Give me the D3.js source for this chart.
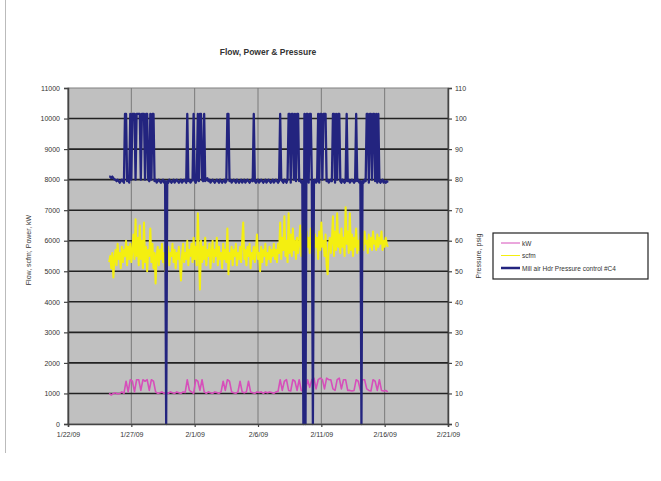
<!DOCTYPE html>
<html lang="en">
    <head>
        <meta charset="utf-8">
        <title>Flow, Power & Pressure</title>
        <script src="https://d3js.org/d3.v7.min.js"></script>
        <style type="text/css">
            body { margin: 0; background: #fff; }
            text { font-family: "Liberation Sans", Arial, sans-serif; fill: #333; }
            .tick text { font-size: 7px; }
        </style>
    </head>
    <body>
        <script type="text/javascript">
            //Width and height
            let w = 661;
            let h = 481;
            let margin = {top: 88, left: 68, right: 213, bottom: 57};

            //All readings start 1/25/09 06:00; kW logged every 4 h, scfm and pressure every 2 h
            let startTime = new Date(2009, 0, 25, 6);
            let kwStepHours = 4;
            let stepHours = 2;

            let xTicks = ["1/22/09", "1/27/09", "2/1/09", "2/6/09", "2/11/09", "2/16/09", "2/21/09"];
            let seriesNames = ["kW", "scfm", "Mill air Hdr Pressure control #C4"];

            let kW = [1000, 950, 1000, 1020, 980, 1000, 1050, 1000,
                      1400, 1050, 1450, 1400, 1050,
                      1450, 1450, 1100, 1450, 1400, 1450, 1100, 1450, 1400,
                      1050, 1000, 1020, 1050, 1000, 1030, 1000, 1050, 1020, 1000, 1050, 1020, 1000, 1050, 1030,
                      1450, 1100, 1050, 1000, 1450, 1400, 1100, 1450,
                      1050, 1000, 1050, 1020, 1000, 1050, 1030, 1000, 1050,
                      1400, 1100, 1450, 1400, 1050, 1020, 1000, 1050, 1400, 1050, 1020, 1050, 1400,
                      1050, 1020, 1000, 1050, 1030, 1050, 1000, 1050, 1020, 1050, 1030, 1000, 1050, 1070,
                      1450, 1100, 1400, 1450, 1100, 1080, 1450, 1400, 1100, 1450, 1100, 1080, 1100,
                      1450, 1200, 1450, 1500, 1150, 1450,
                      1500, 1450, 1150, 1500, 1450, 1450, 1150, 1100,
                      1450, 1500, 1150, 1450, 1450, 1100, 1100, 1080, 1100,
                      1450, 1400, 1100, 1450, 1450, 1150, 1100, 1080,
                      1450, 1400, 1100, 1450, 1100, 1080, 1100, 1050];

            let scfm = [5300, 5500, 5100, 5600, 4800, 5400, 5700, 5200, 5900, 5400,
                        5600, 5100, 5800, 5300, 5700, 5500, 6000, 5200, 5800, 5400,
                        5900, 5300, 5700, 6200, 5400, 6700, 5500, 6100, 5200, 6500,
                        5400, 6000, 5100, 6600, 5300, 5800, 5000, 5700, 5500, 6400,
                        5300, 5900, 5100, 5600, 4600, 5500, 5800, 5200, 5700, 5400,
                        5900, 5300, 5600, 5000, 5700, 5400, 5800, 5200, 5600, 5500,
                        5900, 5300, 5700, 5100, 5600, 5400, 5800, 5200, 4700, 5500,
                        5900, 5300, 5600, 5400, 6000, 5200, 5700, 5500, 5900, 5300,
                        6100, 5400, 5800, 5200, 6900, 5600, 4400, 6000, 5300, 5800,
                        5400, 6100, 5200, 5700, 5500, 5900, 5100, 5600, 6000, 5300,
                        5700, 5500, 6100, 5200, 5800, 5400, 5600, 5100, 5900, 5400,
                        5700, 5300, 6400, 4900, 5600, 5400, 5800, 5200, 5700, 5500,
                        5900, 5200, 5600, 5400, 5800, 5300, 6000, 6600, 5400, 5700,
                        5200, 5800, 5500, 5900, 5100, 5600, 5400, 5800, 5300, 5700,
                        6200, 5400, 5600, 5000, 5800, 5300, 5700, 5500, 5900, 5200,
                        5600, 5400, 5800, 5300, 5700, 5500, 5900, 5400, 5700, 5300,
                        5900, 5600, 6600, 5400, 6100, 5700, 6800, 5500, 6000, 5300,
                        6900, 5600, 6200, 5500, 6400, 5700, 6000, 5400, 6100, 5600,
                        5900, 6500, 5500, 6200, 5700, 6000, 5400, 6300, 5800, 6100,
                        5600, 6400, 5700, 6000, 5500, 6200, 5800, 6100, 5400, 6300,
                        5700, 6600, 5800, 6000, 5500, 6200, 5200, 4900, 5800, 6100,
                        5600, 6000, 6800, 5500, 6300, 5700, 6900, 5800, 6200, 5600,
                        6400, 5800, 6100, 5500, 7100, 5900, 6300, 5600, 6900, 5700,
                        6200, 5500, 6100, 5800, 6400, 5600, 6000, 5700, 6200, 5800,
                        6100, 5700, 6300, 5900, 6000, 5600, 6200, 5800, 6100, 5700,
                        6300, 5900, 6000, 5700, 6200, 5800, 6100, 5900, 6300, 5700,
                        6000, 5800, 6100, 5900, 5800];

            let pressure = [81, 81, 80.5, 81, 80.5, 80, 80, 79.5, 80, 79.5,
                            79, 79.5, 80, 79.5, 79, 101.5, 101.5, 79.5, 80, 79,
                            101.5, 80, 101.5, 101.5, 101.5, 80, 101.5, 101.5, 101.5, 101.5,
                            80, 101.5, 101.5, 101.5, 80, 101.5, 101.5, 80, 79.5, 101.5,
                            80, 101.5, 101.5, 79.5, 80, 79, 79.5, 80, 79.5, 79,
                            79.5, 80, 79, 79.5, 0, 79.5, 79, 80, 79.5, 79,
                            79.5, 80, 79, 79.5, 80, 79.5, 79, 79.5, 80, 79,
                            79.5, 80, 79.5, 79, 101.5, 79.5, 80, 79, 79.5, 80,
                            101.5, 79.5, 79, 80, 101.5, 79.5, 101.5, 101.5, 80, 79.5,
                            101.5, 79.5, 80, 80.5, 79.5, 80, 79, 79.5, 80, 79.5,
                            79, 79.5, 80, 79.5, 79, 80, 79.5, 79, 79.5, 80,
                            79, 79.5, 101.5, 101.5, 79.5, 80, 79, 79.5, 80, 79.5,
                            79, 80, 79.5, 79, 79.5, 80, 79, 79.5, 80, 79,
                            79.5, 80, 79.5, 79, 79.5, 80, 79.5, 101.5, 79.5, 79,
                            79.5, 80, 79, 79.5, 80, 79.5, 79, 79.5, 80, 79,
                            79.5, 80, 79.5, 79, 79.5, 80, 79, 79.5, 80, 79.5,
                            79, 79.5, 101.5, 80, 79.5, 79, 80, 79.5, 79, 80,
                            101.5, 101.5, 79, 101.5, 101.5, 80, 101.5, 79.5, 101.5, 101.5,
                            79.5, 80, 79, 79.5, 0, 101.5, 0, 101.5, 101.5, 79,
                            101.5, 101.5, 79.5, 0, 79.5, 80, 79, 79.5, 101.5, 79,
                            101.5, 101.5, 80, 101.5, 101.5, 101.5, 79.5, 80, 79, 79.5,
                            80, 79.5, 101.5, 101.5, 79, 101.5, 80, 101.5, 101.5, 79.5,
                            79, 80, 79.5, 79, 79.5, 101.5, 79.5, 80, 79, 79.5,
                            80, 79.5, 79, 79.5, 101.5, 79.5, 80, 79, 79.5, 0,
                            79.5, 79, 80, 79.5, 101.5, 101.5, 79, 101.5, 101.5, 80,
                            101.5, 101.5, 79.5, 101.5, 79, 101.5, 79.5, 79, 79.5, 80,
                            79, 79.5, 79, 79.5, 79];

            let kwTimes = kW.map((d, i) => d3.timeHour.offset(startTime, i * kwStepHours));
            let times = scfm.map((d, i) => d3.timeHour.offset(startTime, i * stepHours));
            let parseDate = d3.timeParse("%m/%d/%y");

            let svg = d3.select("body")
                        .append("svg")
                        .attr("width", w)
                        .attr("height", h);

            //Chart area border (left edge visible)
            svg.append("line")
               .attr("x1", 5.5).attr("x2", 5.5)
               .attr("y1", 0).attr("y2", 453)
               .attr("stroke", "#bbb");

            let xScale = d3.scaleTime()
                           .domain([parseDate(xTicks[0]), parseDate(xTicks[xTicks.length - 1])])
                           .range([margin.left, w - margin.right]);
            let yScale = d3.scaleLinear()
                           .domain([0, 11000])
                           .range([h - margin.bottom, margin.top]);
            let yScale2 = d3.scaleLinear()
                            .domain([0, 110])
                            .range([h - margin.bottom, margin.top]);

            //Plot area
            svg.append("rect")
               .attr("x", margin.left)
               .attr("y", margin.top)
               .attr("width", w - margin.left - margin.right)
               .attr("height", h - margin.top - margin.bottom)
               .attr("fill", "#c0c0c0")
               .attr("stroke", "#808080");

            //Vertical gridlines
            svg.selectAll(".vgrid")
               .data(xTicks.map(parseDate))
               .enter()
               .append("line")
               .attr("x1", d => xScale(d)).attr("x2", d => xScale(d))
               .attr("y1", margin.top).attr("y2", h - margin.bottom)
               .attr("stroke", "#7a7a7a")
               .attr("stroke-width", 1);

            //Horizontal gridlines
            svg.selectAll(".hgrid")
               .data(d3.range(1000, 11000, 1000))
               .enter()
               .append("line")
               .attr("x1", margin.left).attr("x2", w - margin.right)
               .attr("y1", d => yScale(d)).attr("y2", d => yScale(d))
               .attr("stroke", "#222")
               .attr("stroke-width", 1.6);

            //Series
            let colors = ["#d64fba", "#f4ef10", "#23247f"];
            let kwLine = d3.line().x((d, i) => xScale(kwTimes[i])).y(d => yScale(d));
            let flowLine = d3.line().x((d, i) => xScale(times[i])).y(d => yScale(d));
            let pressLine = d3.line().x((d, i) => xScale(times[i])).y(d => yScale2(d));

            svg.append("path").datum(kW).attr("d", kwLine)
               .attr("fill", "none").attr("stroke", colors[0])
               .attr("stroke-width", 1.6).attr("stroke-linejoin", "round");
            svg.append("path").datum(scfm).attr("d", flowLine)
               .attr("fill", "none").attr("stroke", colors[1])
               .attr("stroke-width", 2).attr("stroke-linejoin", "round");
            svg.append("path").datum(pressure).attr("d", pressLine)
               .attr("fill", "none").attr("stroke", colors[2])
               .attr("stroke-width", 2.3).attr("stroke-linejoin", "round");

            //Axes
            let xAxis = d3.axisBottom(xScale)
                          .tickValues(xTicks.map(parseDate))
                          .tickFormat(d3.timeFormat("%-m/%-d/%y"))
                          .tickSize(3)
                          .tickPadding(5);
            let gx = svg.append("g")
                        .attr("transform", "translate(0," + (h - margin.bottom) + ")")
                        .call(xAxis);

            let gy = svg.append("g")
                        .attr("transform", "translate(" + margin.left + ",0)")
                        .call(d3.axisLeft(yScale)
                                .tickValues(d3.range(0, 11001, 1000))
                                .tickFormat(d3.format("d"))
                                .tickSize(4).tickPadding(4));

            let gy2 = svg.append("g")
                         .attr("transform", "translate(" + (w - margin.right) + ",0)")
                         .call(d3.axisRight(yScale2)
                                 .tickValues(d3.range(0, 111, 10))
                                 .tickFormat(d3.format("d"))
                                 .tickSize(4).tickPadding(3));

            [gx, gy, gy2].forEach(g => {
                g.select(".domain").attr("stroke", "#444").attr("stroke-width", 1.5);
                g.selectAll(".tick line").attr("stroke", "#444").attr("stroke-width", 1.2);
                g.selectAll(".tick text").attr("fill", "#444").style("font-family", "Liberation Sans, Arial, sans-serif");
            });

            //Title
            svg.append("text")
               .attr("x", 268)
               .attr("y", 55)
               .attr("text-anchor", "middle")
               .style("font-size", "8.5px")
               .style("font-weight", "bold")
               .attr("fill", "#222")
               .text("Flow, Power & Pressure");

            //Axis titles
            svg.append("text")
               .attr("transform", "translate(31,250) rotate(-90)")
               .attr("text-anchor", "middle")
               .style("font-size", "7px")
               .attr("fill", "#555")
               .text("Flow, scfm; Power, kW");

            svg.append("text")
               .attr("transform", "translate(481,256) rotate(-90)")
               .attr("text-anchor", "middle")
               .style("font-size", "7px")
               .attr("fill", "#555")
               .text("Pressure, psig");

            //Legend
            let legend = svg.append("g").attr("transform", "translate(493,233)");
            legend.append("rect")
                  .attr("x", 0).attr("y", 0)
                  .attr("width", 155).attr("height", 46)
                  .attr("fill", "#fff")
                  .attr("stroke", "#222")
                  .attr("stroke-width", 1.2);

            let items = legend.selectAll(".item")
                              .data(seriesNames)
                              .enter()
                              .append("g")
                              .attr("transform", (d, i) => "translate(0," + (10 + i * 12.5) + ")");
            items.append("line")
                 .attr("x1", 8).attr("x2", 27)
                 .attr("y1", 0).attr("y2", 0)
                 .attr("stroke", (d, i) => colors[i])
                 .attr("stroke-width", (d, i) => i === 2 ? 2.5 : 1);
            items.append("text")
                 .attr("x", 29)
                 .attr("y", 2.5)
                 .style("font-size", "6.5px")
                 .attr("fill", "#444")
                 .text(d => d);
        </script>
    </body>
</html>
